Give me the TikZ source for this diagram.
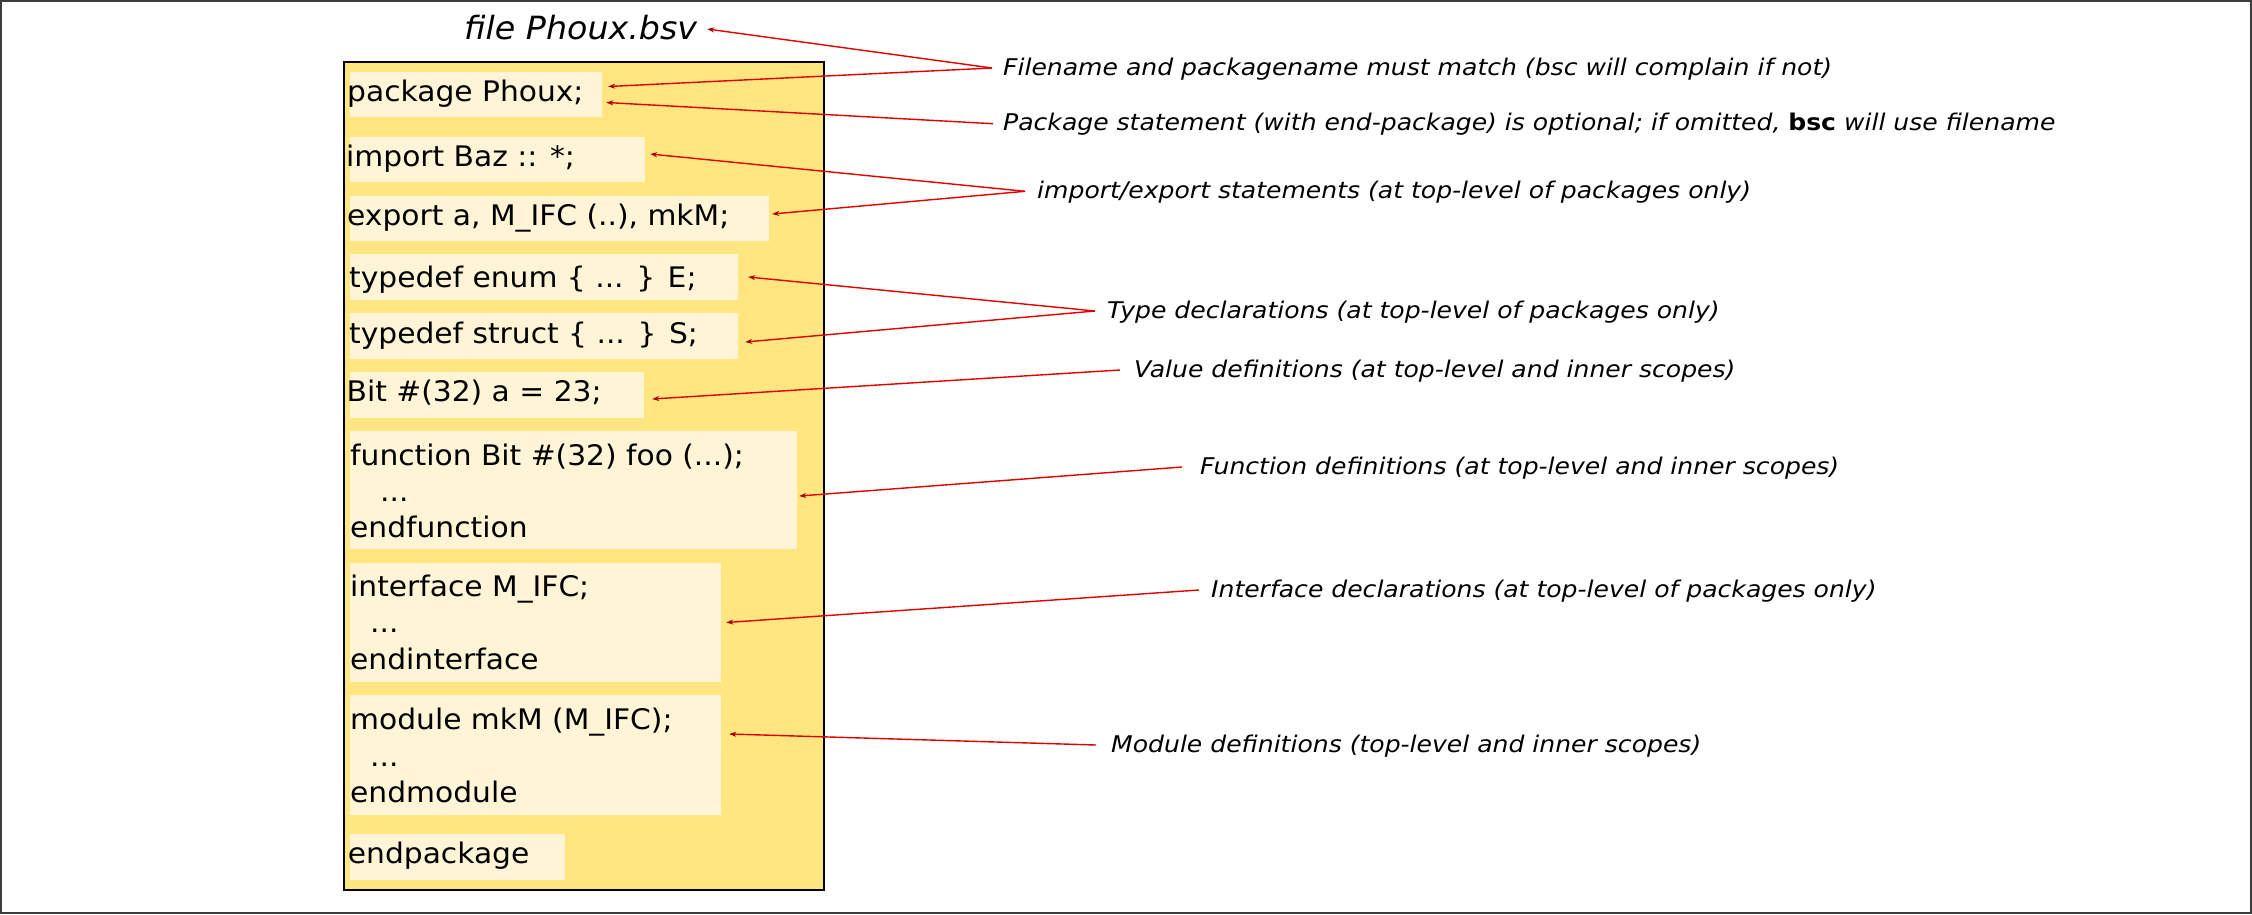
\documentclass[tikz,border=0pt]{standalone}
\usepackage{fontspec}
\setmainfont{DejaVu Sans}
\newfontfamily\codefont[FakeStretch=1.05]{DejaVu Sans}
\newfontfamily\labfont[FakeStretch=1.09]{DejaVu Sans}
\newfontfamily\titlefont[FakeStretch=1.04]{DejaVu Sans}
\usetikzlibrary{arrows.meta,calc,fit}
\definecolor{boxyellow}{HTML}{FFE680}
\definecolor{codebg}{HTML}{FFF5D6}
\definecolor{arrred}{HTML}{E00000}
\definecolor{tipred}{HTML}{A00000}
\definecolor{frame}{HTML}{3C3C3C}
\begin{document}
\begin{tikzpicture}[x=1pt,y=-1pt,
  code/.style={inner sep=0pt,anchor=base west,font=\codefont\fontsize{28.3}{36}\selectfont},
  lab/.style={inner sep=0pt,anchor=base west,font=\labfont\fontsize{23}{28}\selectfont\itshape},
  cbox/.style={fill=codebg,draw=none,inner sep=0pt},
  arr/.style={draw=arrred,line width=1.4pt,-{Stealth[length=7pt,width=5pt,color=tipred]}}]
\useasboundingbox (0,0) rectangle (2252,914);
\draw[frame,line width=2pt] (1,1) rectangle (2251,913);

\node[draw=black,line width=2.5pt,fill=boxyellow,inner sep=0pt,fit={(344,62) (824,890)}] (file) {};
\node[inner sep=0pt,anchor=base west,font=\titlefont\fontsize{32}{36}\selectfont\itshape] (title) at (464,39) {file Phoux.bsv};

\node[cbox,fit={(350,72) (602,117)}] (bpkg) {};
\node[cbox,fit={(350,137) (645,182)}] (bimp) {};
\node[cbox,fit={(350,196) (769,241)}] (bexp) {};
\node[cbox,fit={(350,254) (738,300)}] (benum) {};
\node[cbox,fit={(350,313) (738,359)}] (bstruct) {};
\node[cbox,fit={(350,372) (644,418)}] (bbit) {};
\node[cbox,fit={(350,431) (797,549)}] (bfun) {};
\node[cbox,fit={(350,563) (721,682)}] (bifc) {};
\node[cbox,fit={(350,695) (721,815)}] (bmod) {};
\node[cbox,fit={(350,834) (565,880)}] (bend) {};

\node[code] (tpkg) at (347,101.7) {package Phoux;};
\node[code] (timp) at (346,166.7) {import Baz :: *;};
\node[code] (texp) at (347,225) {export a, M\_IFC (..), mkM;};
\node[code] (tenum) at (349,287.7) {typedef enum \{ ... \} E;};
\node[code] (tstruct) at (349,343.3) {typedef struct \{ ... \} S;};
\node[code] (tbit) at (346.5,401.7) {Bit \#(32) a = 23;};
\node[code] (tfun1) at (350,465) {function Bit \#(32) foo (...);};
\node[code] (tfun2) at (380,501) {...};
\node[code] (tfun3) at (350,537) {endfunction};
\node[code] (tifc1) at (350,596) {interface M\_IFC;};
\node[code] (tifc2) at (370,632) {...};
\node[code] (tifc3) at (350,669) {endinterface};
\node[code] (tmod1) at (350,729) {module mkM (M\_IFC);};
\node[code] (tmod2) at (370,766) {...};
\node[code] (tmod3) at (350,802) {endmodule};
\node[code] (tend) at (347.7,863) {endpackage};

\node[lab] (l1) at (1003,75) {Filename and packagename must match (bsc will complain if not)};
\node[lab] (l2) at (1003,130.7) {Package statement (with end-package) is optional; if omitted, {\upshape\bfseries bsc} will use filename};
\node[lab] (l3) at (1037,198.3) {import/export statements (at top-level of packages only)};
\node[lab] (l4) at (1107,318) {Type declarations (at top-level of packages only)};
\node[lab] (l5) at (1134,377) {Value definitions (at top-level and inner scopes)};
\node[lab] (l6) at (1200,474) {Function definitions (at top-level and inner scopes)};
\node[lab] (l7) at (1211,597) {Interface declarations (at top-level of packages only)};
\node[lab] (l8) at (1111,752) {Module definitions (top-level and inner scopes)};

\coordinate (o1) at ($(l1.base west)+(-11,-7)$);
\coordinate (o2) at ($(l2.base west)+(-10,-7)$);
\coordinate (o3) at ($(l3.base west)+(-12,-7)$);
\coordinate (o4) at ($(l4.base west)+(-12,-7)$);
\coordinate (o5) at ($(l5.base west)+(-14,-7)$);
\coordinate (o6) at ($(l6.base west)+(-18,-7)$);
\coordinate (o7) at ($(l7.base west)+(-12,-7)$);
\coordinate (o8) at ($(l8.base west)+(-15,-7)$);

\draw[arr] (o1) -- ([shift={(10,-10)}]title.base east);
\draw[arr] (o1) -- ([shift={(6,-8)}]bpkg.east);
\draw[arr] (o2) -- ([shift={(4,8)}]bpkg.east);
\draw[arr] (o3) -- ([shift={(5,-5.5)}]bimp.east);
\draw[arr] (o3) -- ([shift={(3,-4.5)}]bexp.east);
\draw[arr] (o4) -- ([shift={(10,0)}]benum.east);
\draw[arr] (o4) -- ([shift={(7,6)}]bstruct.east);
\draw[arr] (o5) -- ([shift={(8,4)}]bbit.east);
\draw[arr] (o6) -- ([shift={(2,6)}]bfun.east);
\draw[arr] (o7) -- ([shift={(5,0)}]bifc.east);
\draw[arr] (o8) -- ([shift={(8,-21)}]bmod.east);
\end{tikzpicture}
\end{document}
